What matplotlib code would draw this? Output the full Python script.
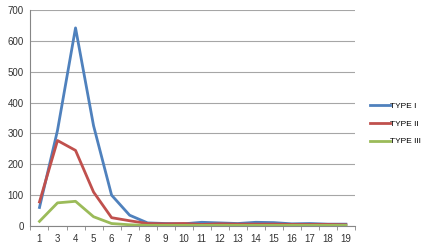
import numpy as np
import matplotlib.pyplot as plt

categories = ['1', '3', '4', '5', '6', '7', '8', '9', '10', '11',
              '12', '13', '14', '15', '16', '17', '18', '19']
type1 = [60, 310, 642, 325, 100, 35, 10, 8, 7, 12, 10, 8, 12, 11, 7, 8, 6, 6]
type2 = [78, 277, 245, 110, 27, 17, 8, 7, 8, 5, 7, 6, 6, 6, 5, 5, 5, 4]
type3 = [15, 75, 80, 30, 8, 4, 2, 2, 2, 2, 2, 2, 2, 2, 2, 2, 2, 2]
yticks = [0, 100, 200, 300, 400, 500, 600, 700]


def main():
    plt.rcParams['font.family'] = ['Liberation Sans', 'DejaVu Sans']
    fig = plt.figure(figsize=(4.28, 2.5), dpi=100)
    ax = fig.add_axes([0.0712, 0.096, 0.758, 0.864])

    x = np.arange(len(categories))
    ax.plot(x, type1, color='#4F81BD', lw=2.0, label='TYPE I')
    ax.plot(x, type2, color='#C0504D', lw=2.0, label='TYPE II')
    ax.plot(x, type3, color='#9BBB59', lw=2.0, label='TYPE III')

    ax.set_xlim(-0.5, len(categories) - 0.5)
    ax.set_ylim(0, 700)
    ax.set_yticks(yticks)
    ax.set_xticks(x)
    ax.set_xticklabels(categories)
    ax.set_xticks(np.arange(-0.5, len(categories)), minor=True)
    ax.tick_params(axis='x', which='major', length=0, labelsize=7, pad=6,
                   colors='#333333')
    ax.tick_params(axis='x', which='minor', length=3, color='#868686',
                   direction='out')
    ax.tick_params(axis='y', length=0, labelsize=7, pad=5, colors='#333333')

    ax.grid(axis='y', color='#a6a6a6', lw=0.8)
    ax.set_axisbelow(True)
    for s in ['top', 'right']:
        ax.spines[s].set_visible(False)
    ax.spines['left'].set_color('#868686')
    ax.spines['bottom'].set_color('#868686')

    fig.legend(loc='upper left', bbox_to_anchor=(370 / 428, 1 - 102 / 250),
               frameon=False, fontsize=6, handlelength=2.4,
               handletextpad=0.05, labelspacing=1.2, borderpad=0,
               borderaxespad=0)
    plt.savefig('out.png', dpi=100)


if __name__ == '__main__':
    main()
